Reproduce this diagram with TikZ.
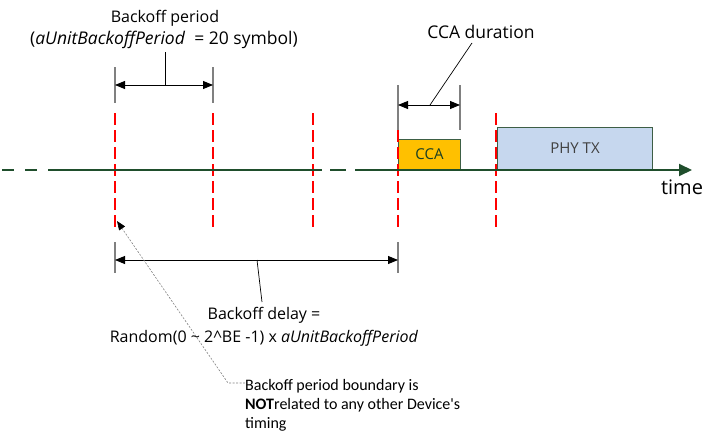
\documentclass[tikz,border=0pt]{standalone}
\usepackage{fontspec}
\setmainfont{Open Sans}
\newfontfamily\notefont{Carlito}
\usetikzlibrary{arrows.meta}

\definecolor{axisgreen}{HTML}{1F4E2C}
\definecolor{ccafill}{HTML}{FFC000}
\definecolor{txfill}{HTML}{C6D7EE}
\definecolor{boxedge}{HTML}{3D5E45}

\begin{document}
\begin{tikzpicture}[x=1pt, y=-1pt, font=\fontsize{15}{23}\selectfont]
\tikzstyle{every node}=[inner sep=0pt]
\tikzstyle{slot}=[red, line width=1.4pt, dash pattern=on 12pt off 5pt]
\tikzstyle{axis}=[axisgreen, line width=2pt]
\tikzstyle{tick}=[gray, line width=1.5pt]
\tikzstyle{dim}=[{Triangle[length=10pt,width=8pt]}-{Triangle[length=10pt,width=8pt]}, line width=0.9pt]
\tikzstyle{lead}=[line width=0.7pt]
\tikzstyle{anno}=[gray, line width=0.6pt, dash pattern=on 2pt off 1.5pt]
\tikzstyle{slotbox}=[draw=boxedge, line width=1pt, anchor=south west]
\useasboundingbox (0,0) rectangle (716,442);

\node[slotbox, fill=ccafill, minimum width=62pt, minimum height=30pt, text=axisgreen!80!black] (cca) at (398,170) {CCA};
\node[slotbox, fill=txfill, minimum width=155pt, minimum height=42pt, text=black!75] (tx) at (497,170) {PHY TX};

\foreach \x [count=\i] in {115,213,313,398,496}
{	\coordinate (s\i) at (\x,113);
	\coordinate (e\i) at (\x,227);
	\draw[slot] (s\i) -- (e\i);
}

\coordinate (t0) at (2,170);
\coordinate (t1) at (48,170);
\coordinate (t2) at (322,170);
\coordinate (t3) at (355,170);
\coordinate (t4) at (692,170);
\draw[axis, dash pattern=on 12pt off 11pt] (t0) -- (t1);
\draw[axis] (t1) -- (t2);
\draw[axis, dash pattern=on 0pt off 8pt on 16pt off 10pt] (t2) -- (t3);
\draw[axis, -{Triangle[length=13pt,width=12pt]}] (t3) -- (t4);
\node[font=\fontsize{20}{24}\selectfont] (time) at (682,187) {time};

\coordinate (bp1a) at (115,67);	\coordinate (bp1b) at (115,103);
\coordinate (bp2a) at (213,67);	\coordinate (bp2b) at (213,103);
\coordinate (bpl) at (115,85);	\coordinate (bpr) at (213,85);
\coordinate (bpm) at (165,85);	\coordinate (bpt) at (165,52);
\node[font=\fontsize{16}{20}\selectfont] (bp) at (165,18) {Backoff period};
\node[font=\fontsize{17.5}{20}\selectfont] (bpu) at (164,40) {(\textit{aUnitBackoffPeriod}\ \ = 20 symbol)};

\coordinate (cd1a) at (398,85);	\coordinate (cd1b) at (398,130);
\coordinate (cd2a) at (460,85);	\coordinate (cd2b) at (460,130);
\coordinate (cdl) at (398,105);	\coordinate (cdr) at (460,105);
\coordinate (cdm) at (430,105);	\coordinate (cdt) at (472,43);
\node[font=\fontsize{17.5}{20}\selectfont] (cd) at (481,32) {CCA duration};

\coordinate (bd1a) at (115,242);	\coordinate (bd1b) at (115,273);
\coordinate (bd2a) at (398,242);	\coordinate (bd2b) at (398,273);
\coordinate (bdl) at (115,260);	\coordinate (bdr) at (398,260);
\coordinate (bdm) at (257,260);	\coordinate (bdt) at (262,302);
\node[font=\fontsize{16}{20}\selectfont] (bd) at (264,315) {Backoff delay =};
\node[font=\fontsize{16}{20}\selectfont] (bdf) at (264,338) {Random(0 \textasciitilde\ 2\textasciicircum BE -1) x \textit{aUnitBackoffPeriod}};

\path[tick]
(bp1a) edge	(bp1b)
(bp2a) edge	(bp2b)
(cd1a) edge	(cd1b)
(cd2a) edge	(cd2b)
(bd1a) edge	(bd1b)
(bd2a) edge	(bd2b);
\path[dim]
(bpl) edge	(bpr)
(cdl) edge	(cdr)
(bdl) edge	(bdr);
\path[lead]
(bpm) edge	(bpt)
(cdm) edge	(cdt)
(bdm) edge	(bdt);

\node[anchor=north west, align=left, font=\notefont\fontsize{16}{19}\selectfont] (note) at (245,379) {Backoff period boundary is\\\textbf{NOT}related to any other Device's\\timing};
\coordinate (tip) at (117,221);
\coordinate (bend) at (228,383);
\draw[anno, -{Triangle[length=9pt,width=7pt,color=black]}] (note.west |- bend) -- (bend) -- (tip);
\end{tikzpicture}
\end{document}
